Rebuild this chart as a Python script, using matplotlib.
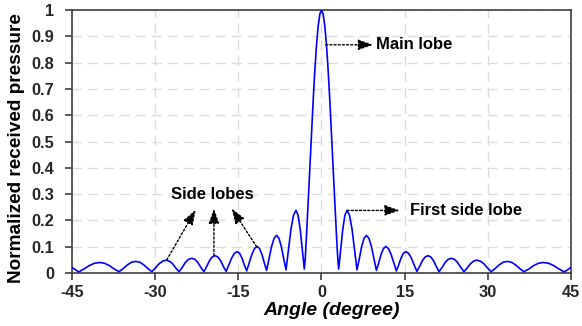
import numpy as np
import matplotlib
matplotlib.use("Agg")
import matplotlib.pyplot as plt

plt.rcParams['font.family'] = ['Liberation Sans', 'DejaVu Sans']
plt.rcParams['font.weight'] = 'bold'
plt.rcParams['axes.unicode_minus'] = False

# beam pattern, positive half; negative half is the mirror
angle_pos = [0, 0.3, 0.6, 0.9, 1.2, 1.5, 1.8, 2.1, 2.4, 2.7, 2.95, 3.1,
             3.475, 3.85, 4.225, 4.6, 5.05, 5.5, 5.95, 6.4,
             6.825, 7.25, 7.675, 8.1, 8.55, 9.0, 9.45, 9.9,
             10.325, 10.75, 11.175, 11.6, 12.075, 12.55, 13.025, 13.5,
             13.925, 14.35, 14.775, 15.2, 15.7, 16.2, 16.7, 17.2,
             17.7, 18.2, 18.7, 19.2, 19.7, 20.2, 20.7, 21.2,
             21.75, 22.3, 22.85, 23.4, 23.975, 24.55, 25.125, 25.7,
             26.275, 26.85, 27.425, 28.0, 28.65, 29.3, 29.95, 30.6,
             31.325, 32.05, 32.775, 33.5, 34.25, 35.0, 35.75, 36.5,
             37.375, 38.25, 39.125, 40.0, 40.95, 41.9, 42.85, 43.8,
             45.0]
pressure_pos = [1.0, 0.985, 0.939, 0.867, 0.771, 0.657, 0.532, 0.399, 0.268, 0.144, 0.050, 0.015,
                0.091, 0.168, 0.220, 0.238, 0.220, 0.168, 0.091, 0.012,
                0.055, 0.101, 0.132, 0.143, 0.132, 0.101, 0.055, 0.010,
                0.039, 0.071, 0.093, 0.101, 0.093, 0.071, 0.039, 0.008,
                0.031, 0.057, 0.075, 0.081, 0.075, 0.057, 0.031, 0.006,
                0.025, 0.047, 0.061, 0.066, 0.061, 0.047, 0.025, 0.005,
                0.021, 0.040, 0.052, 0.056, 0.052, 0.040, 0.021, 0.005,
                0.019, 0.035, 0.045, 0.049, 0.045, 0.035, 0.019, 0.005,
                0.017, 0.031, 0.041, 0.044, 0.041, 0.031, 0.017, 0.005,
                0.015, 0.028, 0.037, 0.040, 0.037, 0.028, 0.015, 0.004,
                0.021]

angle = [-a for a in angle_pos[::-1]] + angle_pos[1:]
pressure = pressure_pos[::-1] + pressure_pos[1:]

xticks = [-45, -30, -15, 0, 15, 30, 45]
yticks = [0, 0.1, 0.2, 0.3, 0.4, 0.5, 0.6, 0.7, 0.8, 0.9, 1]
ytick_labels = ['0', '0.1', '0.2', '0.3', '0.4', '0.5', '0.6', '0.7', '0.8', '0.9', '1']

fig = plt.figure(figsize=(5.82, 3.26), dpi=100)
ax = fig.add_axes([0.1237, 0.1626, 0.8574, 0.8064])

ax.plot(angle, pressure, color='#0000ff', lw=1.2, zorder=3)

ax.set_xlim(-45, 45)
ax.set_ylim(0, 1)
ax.set_xticks(xticks)
ax.set_yticks(yticks)
ax.set_yticklabels(ytick_labels)
ax.grid(True, color='#dcdcdc', linestyle=(0, (7, 4.5)), lw=1)
ax.set_axisbelow(True)
for s in ax.spines.values():
    s.set_color('#404040')
    s.set_linewidth(1.2)
ax.tick_params(colors='#404040', labelsize=11.8, length=5, width=1.2)
ax.tick_params(axis='both', labelcolor='#262626')
ax.tick_params(axis='x', pad=4)
ax.tick_params(axis='y', pad=8)
for lab in ax.get_xticklabels() + ax.get_yticklabels():
    lab.set_fontweight('bold')

ax.set_xlabel('Angle (degree)', fontsize=14, fontstyle='italic', fontweight='bold')
ax.xaxis.set_label_coords(0.52, -0.11)
ax.set_ylabel('Normalized received pressure', fontsize=13.7, fontweight='bold')
ax.yaxis.set_label_coords(-0.094, 0.476)

arrow = dict(arrowstyle='-|>,head_length=0.45,head_width=0.16', linestyle=(0, (1.5, 1.5)),
             color='black', lw=1, mutation_scale=20, shrinkA=0, shrinkB=0)

ax.annotate('', xy=(9.3, 0.868), xytext=(0.75, 0.868), arrowprops=arrow)
ax.text(9.9, 0.868, 'Main lobe', fontsize=12, fontweight='bold', va='center', ha='left')

ax.annotate('', xy=(14.1, 0.238), xytext=(4.6, 0.238), arrowprops=arrow)
ax.text(16.0, 0.236, 'First side lobe', fontsize=12, fontweight='bold', va='center', ha='left')

ax.text(-19.6, 0.298, 'Side lobes', fontsize=12, fontweight='bold', va='center', ha='center')
ax.annotate('', xy=(-22.7, 0.24), xytext=(-27.9, 0.05), arrowprops=arrow)
ax.annotate('', xy=(-19.4, 0.245), xytext=(-19.4, 0.066), arrowprops=arrow)
ax.annotate('', xy=(-16.2, 0.245), xytext=(-11.7, 0.10), arrowprops=arrow)

fig.savefig('out.png', dpi=100)
